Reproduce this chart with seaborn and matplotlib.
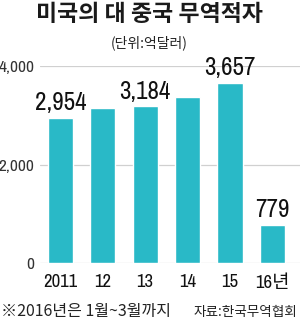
import matplotlib
matplotlib.use("Agg")
import matplotlib.pyplot as plt
import seaborn as sns
import pandas as pd

years = ["2011", "12", "13", "14", "15", "16년"]
values = [2954, 3150, 3184, 3380, 3657, 779]
labels = ["2,954", "", "3,184", "", "3,657", "779"]
yticks = [0, 2000, 4000]
ytick_labels = ["0", "2,000", "4,000"]

NUM = ['Archivo Narrow', 'Noto Sans CJK KR', 'DejaVu Sans']
KR = ['Noto Sans CJK KR', 'DejaVu Sans']

sns.set_style("white")
plt.rcParams['font.family'] = NUM

fig = plt.figure(figsize=(3.0, 3.19), dpi=100)
ax = fig.add_axes([0.133, 0.1755, 0.867, 0.6176])

df = pd.DataFrame({"year": years, "value": values})
sns.barplot(data=df, x="year", y="value", color="#29B9C7", saturation=1,
            width=0.59, ax=ax, zorder=3)

ax.set_ylim(0, 4000)
ax.set_xlim(-0.48, 5.65)
ax.set_yticks(yticks)
ax.set_yticklabels(ytick_labels)
ax.yaxis.grid(True, color="#D0D0D0", linewidth=0.9, zorder=0)
ax.set_axisbelow(True)
for s in ax.spines.values():
    s.set_visible(False)
ax.tick_params(axis="y", length=0, labelsize=12.5, colors="#333333", pad=4)
ax.tick_params(axis="x", length=0, labelsize=13.5, colors="#111111", pad=8)
ax.set_xlabel("")
ax.set_ylabel("")
for lab in ax.get_xticklabels():
    lab.set_family(NUM)

for i, (v, t) in enumerate(zip(values, labels)):
    if t:
        ax.annotate(t, (i, v), xytext=(0, 2.5), textcoords="offset points",
                    ha="center", va="bottom", fontsize=18, fontweight="medium",
                    color="#111111", family=NUM, annotation_clip=False)

fig.text(0.5, 0.955, "미국의 대 중국 무역적자", ha="center", va="center",
         fontsize=16.5, fontweight="bold", family=KR, color="#1a1a1a")
fig.text(0.497, 0.866, "(단위:억달러)", ha="center", va="center",
         fontsize=10, family=KR, color="#222222")
fig.text(0.003, 0.022, "※2016년은 1월~3월까지", ha="left", va="center",
         fontsize=11.5, family=KR, color="#222222")
fig.text(0.99, 0.022, "자료:한국무역협회", ha="right", va="center",
         fontsize=9.8, family=KR, color="#222222")

fig.savefig("out.png", dpi=100)
